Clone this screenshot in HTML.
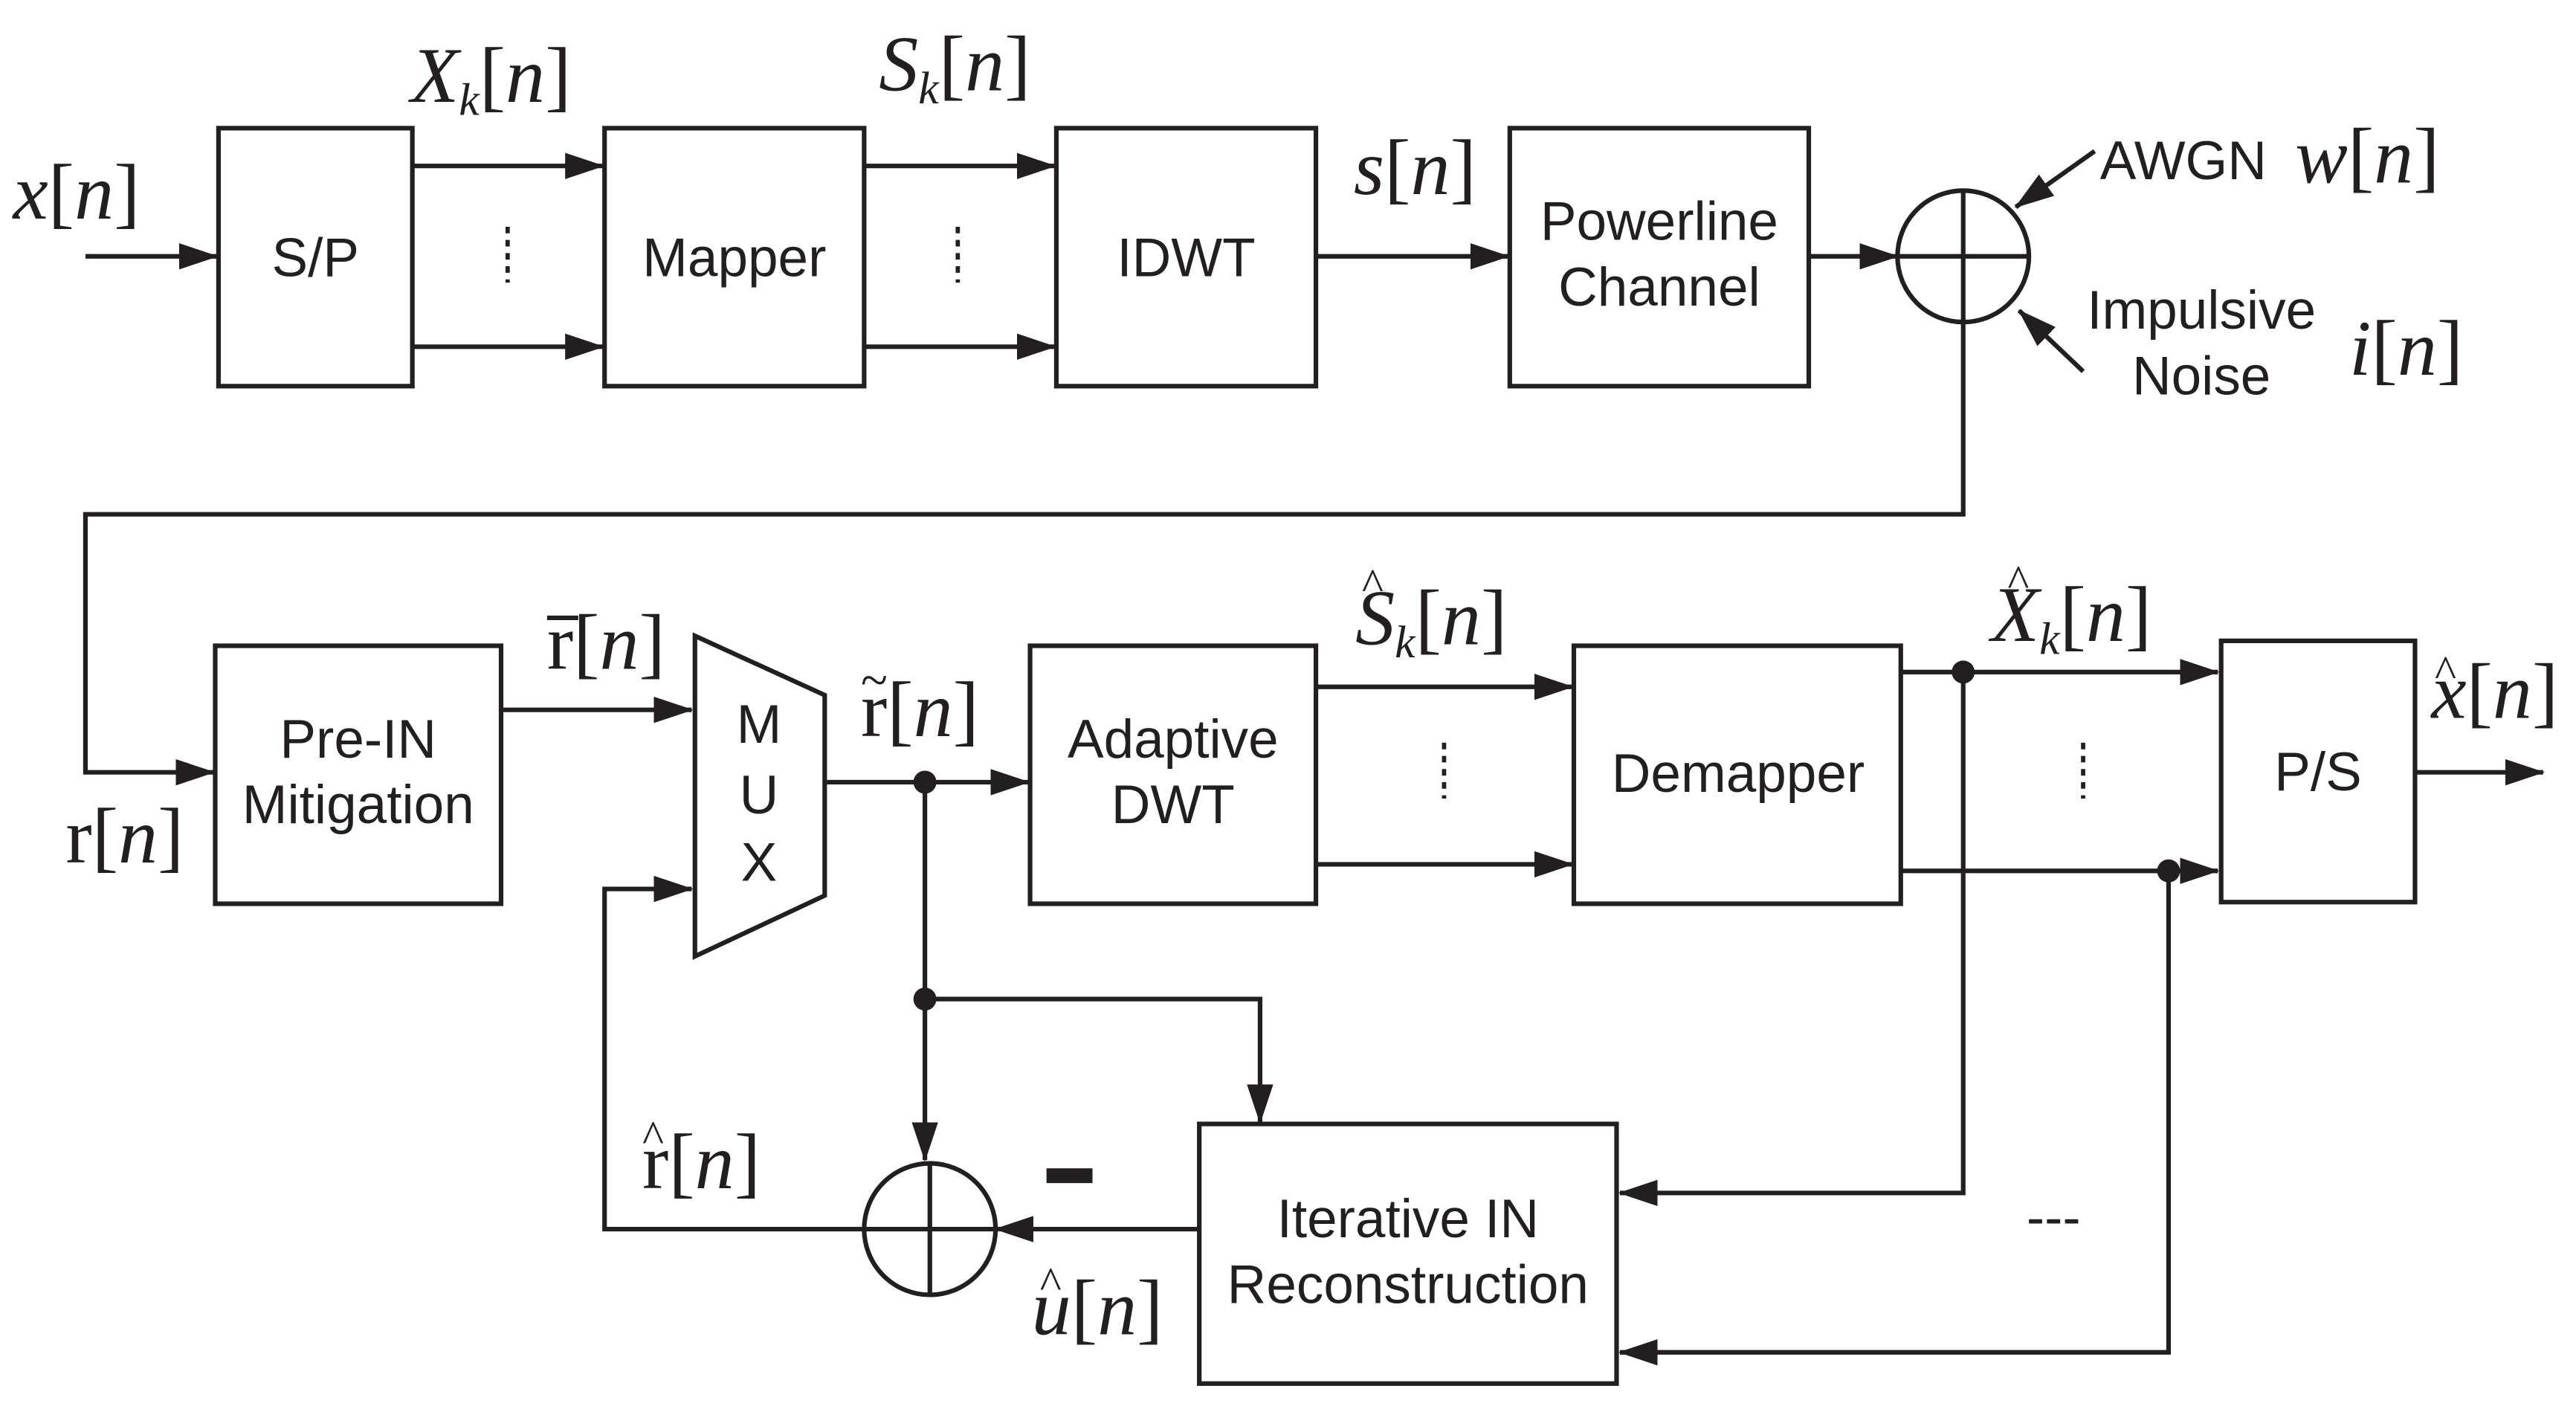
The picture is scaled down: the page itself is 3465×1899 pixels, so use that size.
<!DOCTYPE html>
<html><head><meta charset="utf-8"><style>
html,body{margin:0;padding:0;background:#fff;}
svg{display:block;}
.b{fill:none;stroke:#231f20;stroke-width:2.8;}
.l{fill:none;stroke:#231f20;stroke-width:2.8;}
.t{font-family:"Liberation Sans",sans-serif;font-size:33px;fill:#231f20;text-anchor:middle;}
.m{font-family:"Liberation Serif",serif;font-size:48px;fill:#231f20;}
.i{font-style:italic;}
.s{font-size:28px;font-style:italic;}
.d{stroke:#231f20;stroke-width:2.6;stroke-dasharray:4 4;}
</style></head><body>
<svg width="3465" height="1899" viewBox="0 0 1568 859.3" preserveAspectRatio="none" xmlns="http://www.w3.org/2000/svg">
<defs><marker id="A" markerWidth="24" markerHeight="16" refX="23" refY="8" orient="auto" markerUnits="userSpaceOnUse"><path d="M0,0 L24,8 L0,16 z" fill="#231f20"/></marker></defs>
<rect width="1568" height="860" fill="#fff"/>
<!-- top row -->
<text class="m" x="8" y="133"><tspan class="i">x</tspan>[<tspan class="i">n</tspan>]</text>
<line class="l" x1="52" y1="156" x2="132" y2="156" marker-end="url(#A)"/>
<rect class="b" x="133" y="78" width="118" height="157"/><text class="t" x="192" y="168">S/P</text>
<line class="l" x1="251" y1="101" x2="367" y2="101" marker-end="url(#A)"/>
<line class="l" x1="251" y1="211" x2="367" y2="211" marker-end="url(#A)"/>
<line class="d" x1="309" y1="138" x2="309" y2="172"/>
<text class="m" x="250" y="62"><tspan class="i">X</tspan><tspan class="s" dy="8">k</tspan><tspan dy="-8">[</tspan><tspan class="i">n</tspan>]</text>
<rect class="b" x="368" y="78" width="158" height="157"/><text class="t" x="447" y="168">Mapper</text>
<line class="l" x1="526" y1="101" x2="642" y2="101" marker-end="url(#A)"/>
<line class="l" x1="526" y1="211" x2="642" y2="211" marker-end="url(#A)"/>
<line class="d" x1="583" y1="138" x2="583" y2="172"/>
<text class="m" x="535" y="55"><tspan class="i">S</tspan><tspan class="s" dy="8">k</tspan><tspan dy="-8">[</tspan><tspan class="i">n</tspan>]</text>
<rect class="b" x="643" y="78" width="158" height="157"/><text class="t" x="722" y="168">IDWT</text>
<line class="l" x1="801" y1="156" x2="918" y2="156" marker-end="url(#A)"/>
<text class="m" x="824" y="118"><tspan class="i">s</tspan>[<tspan class="i">n</tspan>]</text>
<rect class="b" x="919" y="78" width="182" height="157"/><text class="t" x="1010" y="146">Powerline</text><text class="t" x="1010" y="186">Channel</text>
<line class="l" x1="1101" y1="156" x2="1155" y2="156" marker-end="url(#A)"/>
<circle class="b" cx="1195" cy="156" r="40"/><line class="l" x1="1155" y1="156" x2="1235" y2="156"/><line class="l" x1="1195" y1="116" x2="1195" y2="196"/>
<line class="l" x1="1275" y1="92" x2="1227" y2="126" marker-end="url(#A)"/>
<text class="t" x="1329" y="109">AWGN</text>
<text class="m" x="1397" y="111"><tspan class="i">w</tspan>[<tspan class="i">n</tspan>]</text>
<line class="l" x1="1268" y1="226" x2="1229" y2="189" marker-end="url(#A)"/>
<text class="t" x="1340" y="200">Impulsive</text><text class="t" x="1340" y="240">Noise</text>
<text class="m" x="1430" y="228"><tspan class="i">i</tspan>[<tspan class="i">n</tspan>]</text>
<polyline class="l" points="1195,196 1195,313 52,313 52,470 130,470" marker-end="url(#A)"/>
<!-- bottom row -->
<text class="m" x="40" y="525">r[<tspan class="i">n</tspan>]</text>
<rect class="b" x="131" y="393" width="174" height="157"/><text class="t" x="218" y="461">Pre-IN</text><text class="t" x="218" y="501">Mitigation</text>
<line class="l" x1="305" y1="432" x2="421" y2="432" marker-end="url(#A)"/>
<text class="m" x="333" y="407">r[<tspan class="i">n</tspan>]</text><line class="l" x1="333" y1="376" x2="352" y2="376"/>
<polygon class="b" points="423,387 502,423 502,545 423,582"/>
<text class="t" x="462" y="452">M</text><text class="t" x="462" y="495">U</text><text class="t" x="462" y="536">X</text>
<line class="l" x1="502" y1="476" x2="626" y2="476" marker-end="url(#A)"/>
<circle cx="563" cy="476" r="7" fill="#231f20"/>
<text class="m" x="524" y="448">r[<tspan class="i">n</tspan>]</text><text class="m" x="524" y="424" style="font-size:30px">~</text>
<rect class="b" x="627" y="393" width="174" height="157"/><text class="t" x="714" y="461">Adaptive</text><text class="t" x="714" y="501">DWT</text>
<line class="l" x1="801" y1="418" x2="957" y2="418" marker-end="url(#A)"/>
<line class="l" x1="801" y1="526" x2="957" y2="526" marker-end="url(#A)"/>
<line class="d" x1="879" y1="452" x2="879" y2="486"/>
<text class="m" x="825" y="392"><tspan class="i">S</tspan><tspan class="s" dy="8">k</tspan><tspan dy="-8">[</tspan><tspan class="i">n</tspan>]</text><text class="m" x="829" y="365" style="font-size:28px">^</text>
<rect class="b" x="958" y="393" width="199" height="157"/><text class="t" x="1058" y="482">Demapper</text>
<line class="l" x1="1157" y1="409" x2="1350" y2="409" marker-end="url(#A)"/>
<line class="l" x1="1157" y1="530" x2="1350" y2="530" marker-end="url(#A)"/>
<circle cx="1195" cy="409" r="7" fill="#231f20"/><circle cx="1320" cy="530" r="7" fill="#231f20"/>
<line class="d" x1="1268" y1="452" x2="1268" y2="486"/>
<text class="m" x="1212" y="390"><tspan class="i">X</tspan><tspan class="s" dy="8">k</tspan><tspan dy="-8">[</tspan><tspan class="i">n</tspan>]</text><text class="m" x="1222" y="363" style="font-size:28px">^</text>
<rect class="b" x="1352" y="390" width="118" height="159"/><text class="t" x="1411" y="481">P/S</text>
<line class="l" x1="1470" y1="470" x2="1548" y2="470" marker-end="url(#A)"/>
<text class="m" x="1480" y="437"><tspan class="i">x</tspan>[<tspan class="i">n</tspan>]</text><text class="m" x="1482" y="418" style="font-size:28px">^</text>
<!-- feedback -->
<line class="l" x1="563" y1="476" x2="563" y2="706" marker-end="url(#A)"/>
<circle cx="563" cy="608" r="7" fill="#231f20"/>
<polyline class="l" points="563,608 767,608 767,683" marker-end="url(#A)"/>
<rect class="b" x="730" y="684" width="254" height="158"/><text class="t" x="857" y="753">Iterative IN</text><text class="t" x="857" y="793">Reconstruction</text>
<polyline class="l" points="1195,409 1195,726 986,726" marker-end="url(#A)"/>
<polyline class="l" points="1320,530 1320,823 986,823" marker-end="url(#A)"/>
<text class="t" x="1250" y="752">---</text>
<line class="l" x1="730" y1="748" x2="606" y2="748" marker-end="url(#A)"/>
<rect x="637" y="711" width="28" height="9" fill="#231f20"/>
<circle class="b" cx="566" cy="748" r="40"/><line class="l" x1="526" y1="748" x2="606" y2="748"/><line class="l" x1="566" y1="708" x2="566" y2="788"/>
<text class="m" x="628" y="812"><tspan class="i">u</tspan>[<tspan class="i">n</tspan>]</text><text class="m" x="633" y="790" style="font-size:28px">^</text>
<polyline class="l" points="526,748 368,748 368,541 421,541" marker-end="url(#A)"/>
<text class="m" x="391" y="723">r[<tspan class="i">n</tspan>]</text><text class="m" x="391" y="701" style="font-size:28px">^</text>
</svg>
</body></html>
